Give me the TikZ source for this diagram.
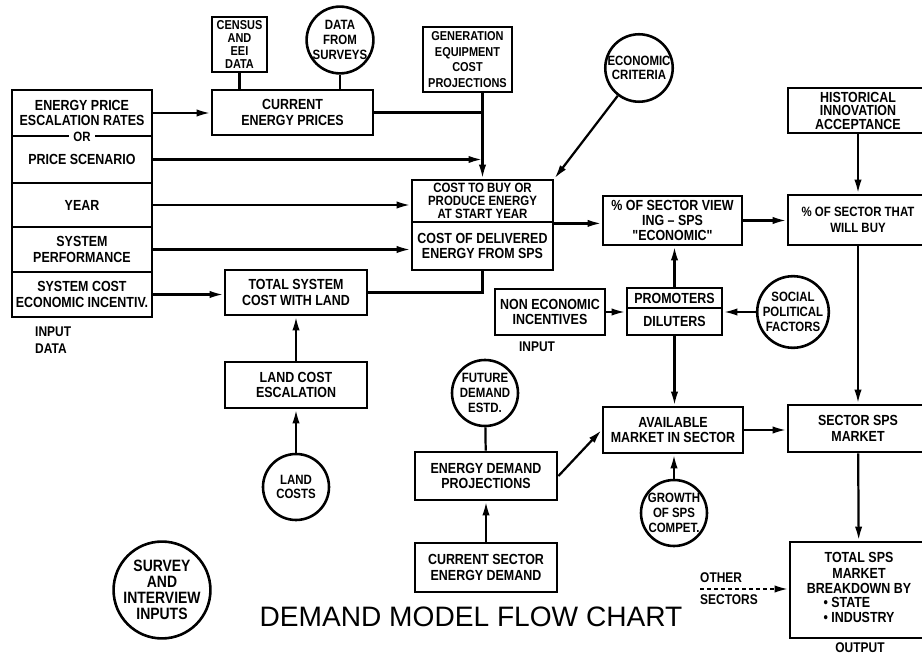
\documentclass[tikz,border=0pt]{standalone}
\usepackage{fontspec}
\setmainfont{Liberation Sans}
\newfontfamily\chartfont[FakeStretch=0.85]{Liberation Sans}
\usetikzlibrary{arrows.meta}

\newcommand\boxtext{\chartfont\bfseries\fontsize{12.5}{13}\selectfont}
\newcommand\circtext{\chartfont\bfseries\fontsize{11.5}{12.5}\selectfont}

\begin{document}
\begin{tikzpicture}[x=0.3mm, y=-0.3mm,
		box/.style={draw, rectangle, line width=2.4pt, inner sep=0pt, align=center, font=\boxtext},
		circ/.style={draw, circle, line width=2.2pt, inner sep=0pt, align=center, font=\circtext},
		lbl/.style={inner sep=0pt, align=left, font=\chartfont\bfseries\fontsize{12}{14}\selectfont},
		con/.style={line width=1.9pt},
		arr/.style={line width=1.9pt, -{Latex[length=4.2mm,width=2.2mm]}}]
		
		% Rahmen
		\useasboundingbox (0,0) rectangle (922,654);
		\clip (0,0) rectangle (922,654);
		
		% Input data
		\node[box, minimum width=42mm, minimum height=13.8mm] (esc) at (82,113) {ENERGY PRICE\\ESCALATION RATES};
		\node[box, minimum width=42mm, minimum height=14.1mm] (price) at (82,159.5) {PRICE SCENARIO};
		\node[box, minimum width=42mm, minimum height=13.2mm] (year) at (82,205) {YEAR};
		\node[box, minimum width=42mm, minimum height=13.5mm] (perf) at (82,249.5) {SYSTEM\\PERFORMANCE};
		\node[box, minimum width=42mm, minimum height=13.5mm] (syscost) at (82,294.5) {SYSTEM COST\\ECONOMIC INCENTIV.};
		\node[fill=white, inner xsep=4pt, inner ysep=1pt, font=\circtext] (or) at (82,137) {OR};
		\node[lbl, anchor=west] (inputdata) at (35,340) {INPUT\\DATA};
		
		% Oben
		\node[box, minimum width=16.5mm, minimum height=16.5mm, font=\chartfont\bfseries\fontsize{11}{11.3}\selectfont] (census) at (239.5,44.5) {CENSUS\\AND\\EEI\\DATA};
		\node[circ, minimum size=19.2mm] (surveys) at (340,40) {DATA\\FROM\\SURVEYS};
		\node[box, minimum width=48.3mm, minimum height=13.5mm] (current) at (292.5,112.5) {CURRENT\\ENERGY PRICES};
		\node[box, minimum width=26.7mm, minimum height=19.5mm, font=\chartfont\bfseries\fontsize{11}{13.5}\selectfont] (geneq) at (467.5,59.5) {GENERATION\\EQUIPMENT\\COST\\PROJECTIONS};
		\node[circ, minimum size=19.2mm] (econ) at (639,68) {ECONOMIC\\CRITERIA};
		
		% Kosten
		\node[box, minimum width=42.3mm, minimum height=12.6mm, font=\chartfont\bfseries\fontsize{11.5}{11.2}\selectfont] (costbuy) at (482.5,201) {COST TO BUY OR\\PRODUCE ENERGY\\AT START YEAR};
		\node[box, minimum width=42.3mm, minimum height=14.4mm] (costdel) at (482.5,246) {COST OF DELIVERED\\ENERGY FROM SPS};
		\node[box, minimum width=42.6mm, minimum height=13.5mm] (totsys) at (296,292.5) {TOTAL SYSTEM\\COST WITH LAND};
		\node[box, minimum width=42.6mm, minimum height=13.8mm] (landesc) at (296,385) {LAND COST\\ESCALATION};
		\node[circ, minimum size=19.8mm] (landcost) at (296,487) {LAND\\COSTS};
		
		\draw[con] (census) -- (census |- current.north);
		\draw[con] (surveys) -- (surveys |- current.north);
		\draw[arr] (esc.east) -- (esc.east -| current.west);
		\draw[con] (current.east) -- (current.east -| costbuy.north);
		\draw[arr] (price.east) -- (price.east -| costbuy.north);
		\draw[arr] (costbuy.north |- geneq.south) -- (costbuy.north);
		\draw[arr] (year.east) -- (year.east -| costbuy.west);
		\draw[arr] (perf.east) -- (perf.east -| costdel.west);
		\draw[arr] (syscost.east) -- (syscost.east -| totsys.west);
		\draw[con] (totsys.east) -| (costdel.south);
		\draw[arr] (econ) -- (costbuy.north east);
		\draw[arr] (landesc) -- (totsys);
		\draw[arr] (landcost) -- (landesc);
		
		% Sektor
		\node[box, minimum width=41.7mm, minimum height=14.7mm] (viewing) at (672.5,220.5) {\% OF SECTOR VIEW\\ING \textendash\ SPS\\"ECONOMIC"};
		\node[box, minimum width=42mm, minimum height=13.5mm, font=\chartfont\bfseries\fontsize{12.5}{11.5}\selectfont] (hist) at (858,110.5) {HISTORICAL\\INNOVATION\\ACCEPTANCE};
		\node[box, minimum width=42mm, minimum height=15mm, font=\chartfont\bfseries\fontsize{11.5}{14}\selectfont] (willbuy) at (858,220) {\% OF SECTOR THAT\\WILL BUY};
		\node[box, minimum width=28.5mm, minimum height=6mm] (promo) at (674.5,298) {PROMOTERS};
		\node[box, minimum width=28.5mm, minimum height=8.1mm] (dilut) at (674.5,321.5) {DILUTERS};
		\node[box, minimum width=33mm, minimum height=13.8mm] (nonecon) at (550,312) {NON ECONOMIC\\INCENTIVES};
		\node[lbl] (noninput) at (537,347) {INPUT};
		\node[circ, minimum size=19.2mm] (social) at (793,312) {SOCIAL\\POLITICAL\\FACTORS};
		
		\draw[arr] (costbuy.south east) -- (costbuy.south east -| viewing.west);
		\draw[arr] (viewing.east) -- (viewing.east -| willbuy.west);
		\draw[arr] (hist) -- (willbuy);
		\draw[arr] (promo.north) -- (promo.north |- viewing.south);
		\draw[arr] (nonecon.east) -- (nonecon.east -| dilut.west);
		\draw[arr] (social.west) -- (social.west -| dilut.east);
		
		% Markt
		\node[box, minimum width=42mm, minimum height=13.8mm] (avail) at (673,430) {AVAILABLE\\MARKET IN SECTOR};
		\node[box, minimum width=42mm, minimum height=14.1mm] (sector) at (858,428.5) {SECTOR SPS\\MARKET};
		\node[circ, minimum size=19.8mm] (growth) at (674,513) {GROWTH\\OF SPS\\COMPET.};
		\node[circ, minimum size=19.8mm] (future) at (485,393) {FUTURE\\DEMAND\\ESTD.};
		\node[box, minimum width=42.6mm, minimum height=14.4mm] (endem) at (486,476) {ENERGY DEMAND\\PROJECTIONS};
		\node[box, minimum width=42.6mm, minimum height=14.7mm] (cursec) at (486,567.5) {CURRENT SECTOR\\ENERGY DEMAND};
		\node[box, minimum width=41.4mm, minimum height=28.8mm] (total) at (859,590) {TOTAL SPS\\MARKET\\BREAKDOWN BY\\[2pt]
			\begin{tabular}{@{}l@{}}
				\textbullet\ STATE\\
				\textbullet\ INDUSTRY
			\end{tabular}};
		\node[lbl] (output) at (860,648) {OUTPUT};
		\node[lbl, anchor=west] (others) at (700,589) {OTHER\\[5pt]SECTORS};
		
		\draw[arr] (dilut.south) -- (dilut.south |- avail.north);
		\draw[arr] (willbuy) -- (sector);
		\draw[arr] (avail.east) -- (avail.east -| sector.west);
		\draw[arr] (growth) -- (growth |- avail.south);
		\draw[con] (future) -- (endem);
		\draw[arr] (cursec) -- (endem);
		\draw[arr] (endem.east) -- (avail.west);
		\draw[arr] (sector) -- (total);
		\draw[arr, dashed] (others.west) -- (others.west -| total.west);
		
		% Unten
		\node[circ, minimum size=24.6mm, font=\chartfont\bfseries\fontsize{14}{13.5}\selectfont] (survey) at (162,590) {SURVEY\\AND\\INTERVIEW\\INPUTS};
		\node[font=\fontsize{24}{28}\selectfont] (title) at (471,617) {DEMAND MODEL FLOW CHART};
		
	\end{tikzpicture}
\end{document}
